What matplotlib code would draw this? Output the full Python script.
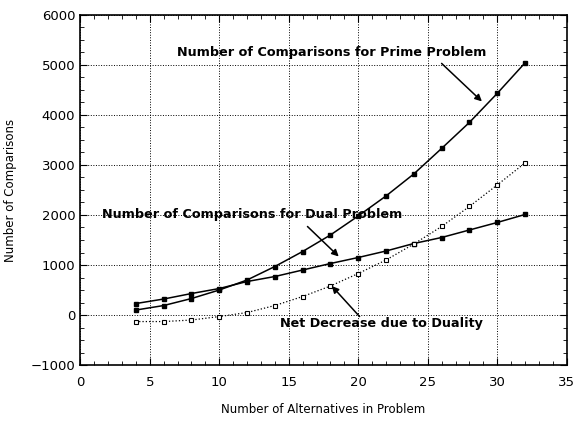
import matplotlib
matplotlib.use("Agg")
from matplotlib import pyplot as plt
from matplotlib.ticker import MultipleLocator

# data
alternatives = [4, 6, 8, 10, 12, 14, 16, 18, 20, 22, 24, 26, 28, 30, 32]
prime = [100, 190, 330, 500, 700, 970, 1270, 1600, 1980, 2380, 2820, 3330, 3850, 4430, 5040]
dual = [230, 320, 430, 530, 670, 770, 900, 1030, 1150, 1280, 1430, 1550, 1700, 1850, 2010]
net = [-130, -130, -100, -30, 50, 190, 370, 580, 830, 1100, 1420, 1770, 2170, 2600, 3040]

fig = plt.figure(figsize=(5.73, 4.25), dpi=100)
ax = fig.add_axes([0.14, 0.141, 0.849, 0.824])

ax.plot(alternatives, prime, "k-", lw=1.1, marker="s", ms=2.2)
ax.plot(alternatives, dual, "k-", lw=1.1, marker="s", ms=2.2)
ax.plot(alternatives, net, "k:", lw=0.9, marker="s", ms=2.4,
        markerfacecolor="white", markeredgewidth=0.8)

ax.set_xlim(0, 35)
ax.set_ylim(-1000, 6000)
ax.xaxis.set_major_locator(MultipleLocator(5))
ax.xaxis.set_minor_locator(MultipleLocator(1))
ax.yaxis.set_major_locator(MultipleLocator(1000))
ax.yaxis.set_minor_locator(MultipleLocator(250))
ax.tick_params(which="both", direction="in", top=True, right=True, labelsize=9.5)
ax.tick_params(which="major", length=5)
ax.tick_params(which="minor", length=3)
ax.tick_params(axis="x", pad=8)
ax.grid(True, which="major", linestyle=":", color="k", lw=0.7)
for s in ax.spines.values():
    s.set_linewidth(1.2)

ax.set_xlabel("Number of Alternatives in Problem", fontsize=8.5, labelpad=10)
ax.set_ylabel("Number of Comparisons", fontsize=8.5, labelpad=10)

bold = dict(fontsize=9.2, fontweight="bold", ha="center", va="center")
arw = dict(arrowstyle="-|>", color="k", lw=1.1, mutation_scale=10, shrinkA=0, shrinkB=0)
ax.text(18.1, 5240, "Number of Comparisons for Prime Problem", **bold)
ax.annotate("", xy=(28.9, 4270), xytext=(26.0, 5030), arrowprops=arw)
ax.text(12.4, 2000, "Number of Comparisons for Dual Problem", **bold)
ax.annotate("", xy=(18.6, 1170), xytext=(16.35, 1770), arrowprops=arw)
ax.text(21.7, -160, "Net Decrease due to Duality", **bold)
ax.annotate("", xy=(18.1, 580), xytext=(20.1, -30), arrowprops=arw)

fig.savefig("out.png", dpi=100)
